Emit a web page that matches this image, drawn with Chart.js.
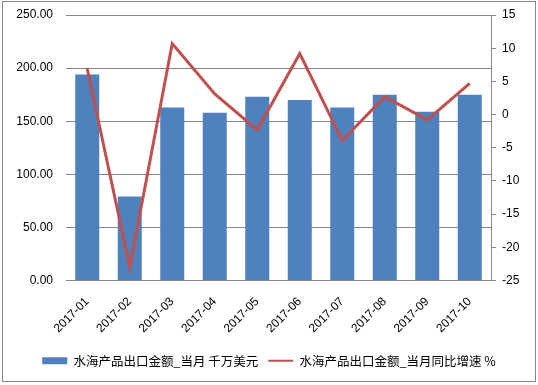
<!DOCTYPE html>
<html>
<head>
<meta charset="utf-8">
<script src="https://cdn.jsdelivr.net/npm/chart.js@4"></script>
<style>
  html, body { margin: 0; padding: 0; background: #fff; }
  #wrap { width: 538px; height: 385px; }
</style>
</head>
<body>
<div id="wrap"><canvas id="chart" width="538" height="385"></canvas></div>
<script>
// ── Data ─────────────────────────────────────────────
const months = ['2017-01','2017-02','2017-03','2017-04','2017-05','2017-06','2017-07','2017-08','2017-09','2017-10'];
const exportValue = [194, 79, 163, 158, 173, 170, 163, 175, 159, 175];   // 千万美元
const yoyGrowth   = [6.9, -23.0, 10.7, 3.1, -2.3, 9.2, -3.9, 2.7, -0.8, 4.7]; // %
const leftTicks   = [0, 50, 100, 150, 200, 250];
const rightTicks  = [-25, -20, -15, -10, -5, 0, 5, 10, 15];

const GRID = '#868686';
const FONT = { family: '"Liberation Sans", Arial, sans-serif', size: 12 };
const LEGEND_FONT = { family: '"Noto Sans CJK SC", "Liberation Sans", sans-serif', size: 12.5 };

// ── Outer frame ──────────────────────────────────────
const framePlugin = {
  id: 'frame',
  afterDraw(chart) {
    const ctx = chart.ctx;
    ctx.save();
    ctx.strokeStyle = GRID;
    ctx.lineWidth = 1;
    ctx.strokeRect(2.5, 1.5, 533, 380);
    ctx.restore();
  }
};

// y axes: fixed width, no extra label padding above/below
const fixY = w => s => { s.width = w; s.paddingTop = 0; s.paddingBottom = 0; };

new Chart(document.getElementById('chart'), {
  type: 'bar',
  data: {
    labels: months,
    datasets: [
      {
        type: 'line',
        label: '水海产品出口金额_当月同比增速 %',
        data: yoyGrowth,
        yAxisID: 'yR',
        borderColor: '#C0504D',
        backgroundColor: '#C0504D',
        borderWidth: 3,
        pointRadius: 0,
        pointHoverRadius: 0,
        pointStyle: 'line',
        tension: 0,
        order: 0
      },
      {
        type: 'bar',
        label: '水海产品出口金额_当月 千万美元',
        data: exportValue,
        yAxisID: 'yL',
        backgroundColor: '#4F81BD',
        pointStyle: 'rect',
        barPercentage: 0.565,
        categoryPercentage: 1,
        order: 1
      }
    ]
  },
  options: {
    responsive: false,
    animation: false,
    layout: { autoPadding: false, padding: { top: 15, left: 0, right: 0, bottom: 8 } },
    plugins: {
      tooltip: { enabled: false },
      legend: {
        position: 'bottom',
        reverse: true,
        labels: {
          usePointStyle: true,
          pointStyleWidth: 25,
          boxHeight: 7,
          padding: 10,
          color: '#000',
          font: LEGEND_FONT,
          generateLabels(chart) {
            const items = Chart.defaults.plugins.legend.labels.generateLabels(chart);
            items.forEach(it => {
              if (it.pointStyle === 'line') { it.lineWidth = 2; it.strokeStyle = '#C0504D'; }
              else { it.lineWidth = 0; it.fillStyle = '#4F81BD'; }
            });
            return items;
          }
        }
      }
    },
    scales: {
      x: {
        grid: { display: false },
        border: { color: GRID },
        ticks: { color: '#000', font: FONT, maxRotation: 45, minRotation: 45, padding: 6 },
        afterFit(s) { s.height = 64; }
      },
      yL: {
        position: 'left',
        min: 0, max: 250,
        afterBuildTicks(s) { s.ticks = leftTicks.map(v => ({ value: v })); },
        grid: { color: GRID, drawTicks: false },
        border: { display: false },
        ticks: { color: '#000', font: FONT, padding: 13, callback: v => v.toFixed(2) },
        afterFit: fixY(66)
      },
      yR: {
        position: 'right',
        min: -25, max: 15,
        afterBuildTicks(s) { s.ticks = rightTicks.map(v => ({ value: v })); },
        grid: { drawOnChartArea: false, color: GRID, tickLength: 5 },
        border: { color: GRID },
        ticks: { color: '#000', font: FONT, padding: 6 },
        afterFit: fixY(47)
      }
    }
  },
  plugins: [framePlugin]
});
</script>
</body>
</html>
